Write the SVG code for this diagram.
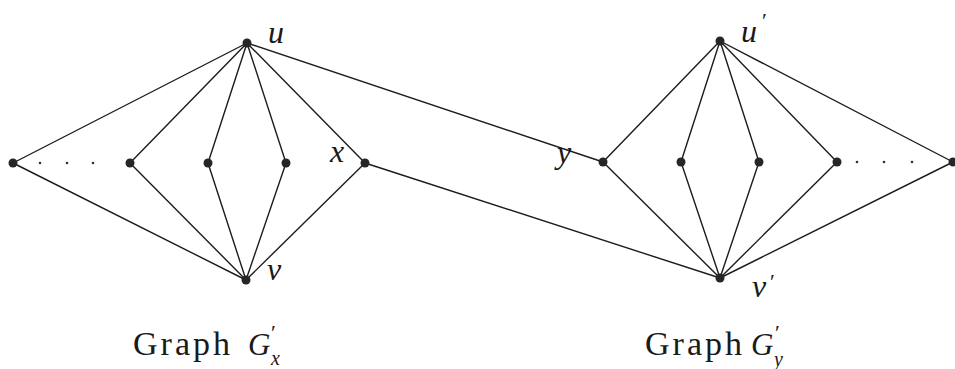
<svg xmlns="http://www.w3.org/2000/svg" width="955" height="369" viewBox="0 0 955 369">
<style>
.e{stroke:#1c1c1c;stroke-width:1.4;fill:none;stroke-linecap:round}
.n{fill:#262626}
.d{fill:#333}
.m{font-family:"Liberation Serif",serif;font-style:italic;font-size:32px;fill:#1a1a1a}
.pr{font-family:"Liberation Serif",serif;font-size:22px;fill:#1a1a1a}
.c{font-family:"Liberation Serif",serif;font-size:34px;fill:#1a1a1a}
.ci{font-family:"Liberation Serif",serif;font-style:italic;font-size:31px;fill:#1a1a1a}
.cs{font-family:"Liberation Serif",serif;font-style:italic;font-size:20px;fill:#1a1a1a}
</style>
<rect width="955" height="369" fill="#fff"/>
<g id="connectors">
<line class="e" x1="247" y1="43" x2="13" y2="163"/>
<line class="e" x1="247" y1="43" x2="130" y2="163"/>
<line class="e" x1="247" y1="43" x2="208" y2="163"/>
<line class="e" x1="247" y1="43" x2="286" y2="163"/>
<line class="e" x1="247" y1="43" x2="365" y2="163"/>
<line class="e" x1="246" y1="280" x2="13" y2="163"/>
<line class="e" x1="246" y1="280" x2="130" y2="163"/>
<line class="e" x1="246" y1="280" x2="208" y2="163"/>
<line class="e" x1="246" y1="280" x2="286" y2="163"/>
<line class="e" x1="246" y1="280" x2="365" y2="163"/>
<line class="e" x1="247" y1="43" x2="603" y2="162"/>
<line class="e" x1="365" y1="163" x2="720" y2="278"/>
<line class="e" x1="720" y1="41" x2="603" y2="162"/>
<line class="e" x1="720" y1="41" x2="681" y2="162"/>
<line class="e" x1="720" y1="41" x2="759" y2="162"/>
<line class="e" x1="720" y1="41" x2="837" y2="162"/>
<line class="e" x1="720" y1="41" x2="953" y2="162"/>
<line class="e" x1="720" y1="278" x2="603" y2="162"/>
<line class="e" x1="720" y1="278" x2="681" y2="162"/>
<line class="e" x1="720" y1="278" x2="759" y2="162"/>
<line class="e" x1="720" y1="278" x2="837" y2="162"/>
<line class="e" x1="720" y1="278" x2="953" y2="162"/>
</g>
<g id="node-u"><circle class="n" cx="247" cy="43" r="4.5"/><text class="m" x="268" y="43">u</text></g>
<g id="node-v"><circle class="n" cx="246" cy="280" r="4.5"/><text class="m" x="267" y="280">v</text></g>
<g id="node-l1"><circle class="n" cx="13" cy="163" r="4.5"/></g>
<g id="dots-left"><circle class="d" cx="40" cy="163" r="1.3"/><circle class="d" cx="67" cy="163" r="1.3"/><circle class="d" cx="93" cy="163" r="1.3"/></g>
<g id="node-l2"><circle class="n" cx="130" cy="163" r="4.5"/></g>
<g id="node-l3"><circle class="n" cx="208" cy="163" r="4.5"/></g>
<g id="node-l4"><circle class="n" cx="286" cy="163" r="4.5"/></g>
<g id="node-x"><circle class="n" cx="365" cy="163" r="4.5"/><text class="m" x="330" y="162">x</text></g>
<g id="node-y"><circle class="n" cx="603" cy="162" r="4.5"/><text class="m" x="557" y="163">y</text></g>
<g id="node-r2"><circle class="n" cx="681" cy="162" r="4.5"/></g>
<g id="node-r3"><circle class="n" cx="759" cy="162" r="4.5"/></g>
<g id="node-r4"><circle class="n" cx="837" cy="162" r="4.5"/></g>
<g id="dots-right"><circle class="d" cx="857" cy="162" r="1.3"/><circle class="d" cx="884" cy="162" r="1.3"/><circle class="d" cx="912" cy="162" r="1.3"/></g>
<g id="node-r5"><circle class="n" cx="953" cy="162" r="4.5"/></g>
<g id="node-u2"><circle class="n" cx="720" cy="41" r="4.5"/><text class="m" x="741" y="42">u</text><text class="pr" x="762" y="28">′</text></g>
<g id="node-v2"><circle class="n" cx="720" cy="278" r="4.5"/><text class="m" x="752" y="297">v</text><text class="pr" x="770" y="289">′</text></g>
<g id="caption-left"><text class="c" x="133" y="355" textLength="97" lengthAdjust="spacing">Graph</text><text class="ci" x="248" y="355">G</text><text class="pr" x="271" y="340">′</text><text class="cs" x="271" y="365">x</text></g>
<g id="caption-right"><text class="c" x="645" y="355" textLength="97" lengthAdjust="spacing">Graph</text><text class="ci" x="751" y="355">G</text><text class="pr" x="775" y="340">′</text><text class="cs" x="774" y="366">y</text></g>
</svg>
